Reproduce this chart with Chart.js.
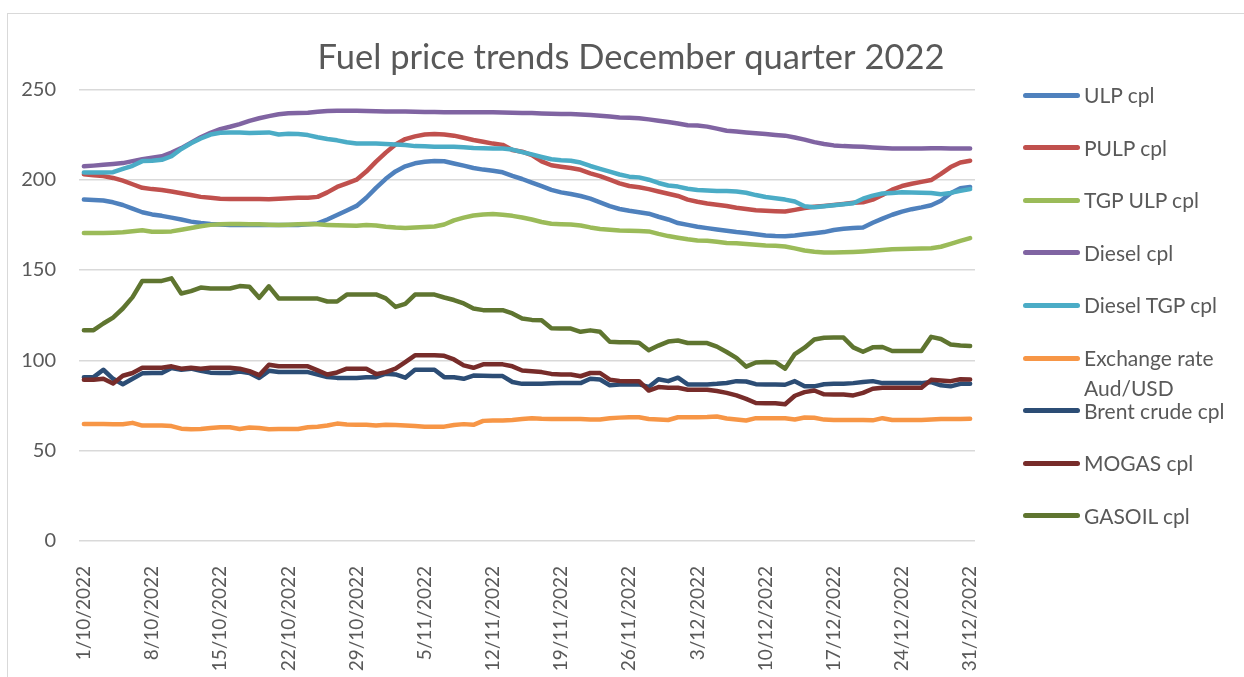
<!DOCTYPE html>
<html>
<head>
<meta charset="utf-8">
<title>Fuel price trends December quarter 2022</title>
<script src="https://cdn.jsdelivr.net/npm/chart.js@4.4.1/dist/chart.umd.min.js"></script>
<style>
  html, body { margin: 0; padding: 0; background: #fff; }
  #wrap { position: relative; width: 1244px; height: 677px; overflow: hidden; font-family: Lato, "Open Sans", sans-serif; }
  #frame { position: absolute; left: 7px; top: 13px; width: 1300px; height: 700px; border-left: 1.5px solid #d9d9d9; border-top: 1.5px solid #d9d9d9; }
  canvas { position: absolute; left: 0; top: 0; }
  .item { position: absolute; left: 1023px; height: 30px; }
  .swatch { position: absolute; left: 0; top: 12.5px; width: 57px; height: 5px; border-radius: 3px; }
  .text { position: absolute; left: 61px; top: 0; width: 160px; font-size: 21px; line-height: 30px; color: #595959; }
</style>
</head>
<body>
<div id="wrap">
  <div id="frame"></div>
  <canvas id="fuelChart" width="1244" height="677"></canvas>
  <div id="legend"></div>
</div>
<script>
// daily values, 1/10/2022 .. 31/12/2022 (92 days)
const tickLabels = ["1/10/2022", "8/10/2022", "15/10/2022", "22/10/2022", "29/10/2022", "5/11/2022", "12/11/2022",
  "19/11/2022", "26/11/2022", "3/12/2022", "10/12/2022", "17/12/2022", "24/12/2022", "31/12/2022"];

const ulp = [189, 188.8, 188.5, 187.5, 186, 184, 182, 180.8, 180, 179,
  178, 176.8, 176, 175.5, 175.2, 175, 175, 175, 175, 175,
  175, 175, 175, 175.3, 175.8, 178, 180.5, 183, 185.5, 190,
  195.5, 200.5, 204.6, 207.4, 209.1, 209.9, 210.3, 210.2, 209, 207.8,
  206.5, 205.6, 205, 204.1, 202.1, 200.4, 198.4, 196.4, 194.4, 193,
  192.1, 191, 189.5, 187.5, 185.4, 183.8, 182.8, 182, 181.2, 179.5,
  178, 176, 175, 174, 173.2, 172.5, 171.7, 171, 170.5, 169.8,
  169.1, 168.8, 168.7, 169.1, 169.8, 170.4, 171, 172.2, 172.8, 173.3,
  173.6, 176.2, 178.5, 180.6, 182.3, 183.7, 184.7, 185.9, 188.4, 192.5,
  195.3, 196];

const pulp = [203, 202.5, 202, 201, 199.5, 197.5, 195.5, 194.8, 194.3, 193.5,
  192.5, 191.5, 190.5, 190, 189.5, 189.3, 189.3, 189.3, 189.3, 189.2,
  189.5, 189.8, 190, 190, 190.5, 193, 196, 198, 200, 204.5,
  210, 215, 219.5, 222.5, 224, 225, 225.3, 225, 224.4, 223.2,
  222, 221, 220, 219.3, 216.5, 215.5, 213.6, 210.2, 208, 207.2,
  206.5, 205.5, 203.5, 202, 200, 198, 196.5, 195.8, 194.8, 193.5,
  192.2, 191, 189, 187.8, 186.8, 186.2, 185.5, 184.5, 183.8, 183.1,
  182.8, 182.6, 182.4, 183.3, 184.3, 185, 185.5, 186, 186.6, 187.2,
  187.5, 189, 191.5, 194.5, 196.5, 197.8, 198.8, 199.8, 203.2, 207,
  209.5, 210.5];

const tgpUlp = [170.5, 170.5, 170.5, 170.7, 170.9, 171.5, 172, 171.2, 171.2, 171.4,
  172.3, 173.3, 174.2, 175, 175.4, 175.5, 175.5, 175.4, 175.3, 175.1,
  175, 175.1, 175.3, 175.5, 175.3, 175, 174.8, 174.6, 174.5, 174.9,
  174.7, 174, 173.5, 173.3, 173.5, 173.8, 174.1, 175.2, 177.5, 179,
  180.2, 180.8, 181, 180.6, 180, 179.1, 178, 176.6, 175.6, 175.4,
  175.2, 174.7, 173.6, 172.7, 172.3, 171.9, 171.7, 171.6, 171.4, 170,
  168.8, 167.9, 167, 166.3, 166.2, 165.6, 165, 164.8, 164.4, 164,
  163.6, 163.4, 163, 162, 160.8, 160.1, 159.7, 159.7, 159.8, 160,
  160.3, 160.7, 161.1, 161.5, 161.7, 161.8, 161.9, 162.1, 162.9, 164.5,
  166.1, 167.7];

const diesel = [207.4, 207.8, 208.3, 208.7, 209.2, 210.3, 211.4, 212.2, 213, 215,
  217.5, 220.5, 223.5, 226, 228, 229.3, 230.8, 232.6, 234, 235.2,
  236.2, 236.8, 237, 237.1, 237.6, 238, 238.2, 238.2, 238.2, 238,
  237.9, 237.8, 237.8, 237.7, 237.6, 237.5, 237.5, 237.4, 237.4, 237.3,
  237.3, 237.3, 237.3, 237.2, 237.1, 237, 236.9, 236.7, 236.5, 236.4,
  236.4, 236.1, 235.8, 235.4, 235, 234.5, 234.3, 234, 233.4, 232.7,
  232, 231.1, 230.2, 230, 229.4, 228.3, 227.1, 226.7, 226.2, 225.7,
  225.3, 224.8, 224.4, 223.4, 222.2, 220.8, 219.8, 219, 218.6, 218.4,
  218.2, 217.8, 217.5, 217.3, 217.3, 217.3, 217.3, 217.4, 217.4, 217.3,
  217.3, 217.3];

const dieselTgp = [204, 204, 204, 204.2, 206, 207.7, 210.3, 210.5, 211, 213,
  217, 220.2, 222.8, 225, 226, 226.2, 226.1, 225.9, 226, 226.2,
  225, 225.4, 225.3, 224.7, 223.5, 222.5, 221.8, 220.7, 220, 220,
  220, 219.8, 219.5, 219.2, 218.6, 218.5, 218.3, 218.2, 218.2, 218,
  217.6, 217.4, 217.3, 217.3, 216.7, 215.3, 214, 212.6, 211.3, 210.8,
  210.5, 209.5, 207.6, 206, 204.5, 202.9, 201.7, 201.3, 200, 198.2,
  196.8, 196.2, 195, 194.3, 194, 193.8, 193.7, 193.5, 192.8, 191.5,
  190.4, 189.7, 189, 187.9, 185.3, 184.8, 185.3, 185.9, 186.4, 187,
  189.5, 191.2, 192.4, 192.7, 193, 192.9, 192.8, 192.6, 192, 192.7,
  193.8, 194.8];

const exchangeRate = [64.8, 64.8, 64.8, 64.7, 64.6, 65.4, 63.9, 63.9, 63.9, 63.6,
  62.2, 61.8, 62, 62.5, 63, 63, 62, 62.8, 62.6, 61.9,
  62, 62, 62, 63, 63.3, 63.9, 65, 64.5, 64.4, 64.4,
  64, 64.3, 64.2, 64, 63.6, 63.3, 63.3, 63.3, 64.2, 64.7,
  64.3, 66.5, 66.7, 66.7, 67, 67.5, 68, 67.7, 67.6, 67.6,
  67.6, 67.6, 67.3, 67.3, 68, 68.3, 68.5, 68.5, 67.5, 67.3,
  67, 68.5, 68.5, 68.5, 68.6, 68.9, 67.8, 67.3, 66.7, 68,
  68, 68, 68, 67.3, 68.4, 68.2, 67.2, 67, 67, 67,
  67, 66.8, 68, 67, 67, 67, 67, 67.2, 67.5, 67.6,
  67.6, 67.7];

const brent = [90.7, 90.7, 94.8, 89.8, 86.8, 89.8, 92.8, 93, 93, 95.8,
  94.8, 95.4, 94.2, 93.2, 93, 93, 93.8, 93, 90.3, 94.2,
  93.6, 93.5, 93.5, 93.5, 92.2, 90.8, 90.3, 90.2, 90.2, 90.7,
  90.7, 92.6, 92.2, 90.4, 94.8, 94.8, 94.8, 90.7, 90.7, 89.8,
  91.6, 91.5, 91.3, 91.3, 88, 87, 87, 87, 87.3, 87.4,
  87.4, 87.4, 89.8, 89.4, 86.2, 86.7, 86.7, 86.7, 85.3, 89.5,
  88.5, 90.4, 86.7, 86.7, 86.7, 87, 87.5, 88.5, 88.3, 86.8,
  86.7, 86.7, 86.5, 88.5, 85.7, 85.6, 86.8, 87, 87, 87.4,
  88, 88.5, 87.4, 87.4, 87.4, 87.4, 87.4, 88, 86.2, 85.6,
  87, 87];

const mogas = [89.3, 89.3, 89.8, 87.2, 91.5, 93, 95.9, 95.9, 95.9, 96.7,
  95.4, 95.9, 95.4, 95.9, 95.9, 95.9, 95.4, 94, 91.8, 97.6,
  96.7, 96.7, 96.7, 96.7, 94.5, 92.2, 93.3, 95.4, 95.4, 95.4,
  92.4, 93.5, 95.4, 99, 102.8, 102.8, 102.8, 102.5, 100.5, 97.2,
  95.9, 97.8, 97.8, 97.8, 96.7, 94.4, 94, 93.5, 92.5, 92.2,
  92.2, 91.2, 93, 93, 89.3, 88.6, 88.5, 88.5, 83.3, 85.2,
  84.8, 84.8, 83.7, 83.7, 83.7, 83, 82, 80.6, 78.7, 76.4,
  76.3, 76.3, 75.7, 80.4, 82.4, 83.3, 81.2, 81.1, 81.1, 80.6,
  82, 84.3, 84.8, 84.8, 84.8, 84.8, 84.8, 89.2, 88.9, 88.5,
  89.5, 89.4];

const gasoil = [116.7, 116.7, 120.4, 123.7, 128.7, 135, 144, 144, 144, 145.4,
  137, 138.3, 140.3, 139.8, 139.8, 139.8, 141.1, 140.7, 134.6, 141,
  134.3, 134.3, 134.3, 134.3, 134.2, 132.6, 132.6, 136.4, 136.4, 136.5,
  136.5, 134.3, 129.6, 131.3, 136.4, 136.4, 136.4, 134.8, 133.4, 131.5,
  128.7, 127.8, 127.8, 127.8, 126, 123.2, 122.4, 122.2, 117.8, 117.6,
  117.6, 115.8, 116.6, 115.8, 110.3, 110, 110, 109.8, 105.6, 108.2,
  110.4, 111, 109.6, 109.6, 109.6, 107.6, 104.6, 101.4, 96.5, 98.8,
  99.1, 99, 95.4, 103.5, 107, 111.5, 112.5, 112.6, 112.6, 107.2,
  104.8, 107.2, 107.4, 105.2, 105.2, 105.2, 105.2, 113, 111.8, 108.8,
  108.2, 108];

const seriesNames = ["ULP cpl", "PULP cpl", "TGP ULP cpl", "Diesel cpl", "Diesel TGP cpl",
  "Exchange rate Aud/USD", "Brent crude cpl", "MOGAS cpl", "GASOIL cpl"];
const seriesValues = [ulp, pulp, tgpUlp, diesel, dieselTgp, exchangeRate, brent, mogas, gasoil];
const seriesColors = ["#4F81BD", "#C0504D", "#9BBB59", "#8064A2", "#4BACC6",
  "#F79646", "#2C4D75", "#772C2A", "#5F7530"];

// category labels: one per day of the quarter
const days = [];
for (let d = new Date(2022, 9, 1); d <= new Date(2022, 11, 31); d.setDate(d.getDate() + 1)) {
  days.push(d.getDate() + "/" + (d.getMonth() + 1) + "/" + d.getFullYear());
}

const font = "Lato, 'Open Sans', sans-serif";
const textColor = "#595959";

const datasets = seriesNames.map((name, i) => ({
  label: name,
  data: seriesValues[i],
  borderColor: seriesColors[i],
  backgroundColor: seriesColors[i],
  borderWidth: 4.5,
  borderCapStyle: "round",
  borderJoinStyle: "round",
  pointRadius: 0,
  tension: 0,
  fill: false,
  order: seriesNames.length - i, // later series drawn on top, like Excel
}));

new Chart(document.getElementById("fuelChart"), {
  type: "line",
  data: { labels: days, datasets: datasets },
  options: {
    responsive: false,
    animation: false,
    devicePixelRatio: 1,
    layout: { padding: { left: 18, right: 0, top: 0, bottom: 0 } },
    plugins: {
      legend: { display: false },
      tooltip: { enabled: false },
      title: {
        display: true,
        text: "Fuel price trends December quarter 2022",
        color: textColor,
        font: { family: font, size: 34.5, weight: "normal" },
        padding: { top: 37, bottom: 11 },
      },
    },
    scales: {
      x: {
        type: "category",
        offset: true,
        grid: { display: false },
        border: { display: false },
        ticks: {
          autoSkip: false,
          minRotation: 90,
          maxRotation: 90,
          padding: 17,
          color: textColor,
          font: { family: font, size: 19 },
          callback: function (value) {
            const lbl = this.getLabelForValue(value);
            return tickLabels.includes(lbl) ? lbl : null;
          },
        },
        afterFit: (scale) => { scale.height = 136; },
      },
      y: {
        min: 0,
        max: 250,
        ticks: { stepSize: 50, padding: 23, color: textColor, font: { family: font, size: 20 } },
        grid: { color: "#d9d9d9", lineWidth: 1.5, drawTicks: false },
        border: { display: false },
        afterFit: (scale) => { scale.width = 61; },
      },
      // empty axis that keeps room for the legend on the right
      yRoom: {
        position: "right",
        display: true,
        grid: { display: false },
        border: { display: false },
        ticks: { display: false },
        afterFit: (scale) => { scale.width = 269; },
      },
    },
  },
});

// legend
const legend = document.getElementById("legend");
legend.innerHTML = seriesNames
  .map((name, i) => `
    <div class="item" style="top:${80 + i * 52.6}px">
      <span class="swatch" style="background:${seriesColors[i]}"></span>
      <span class="text">${name}</span>
    </div>`)
  .join("");
</script>
</body>
</html>
